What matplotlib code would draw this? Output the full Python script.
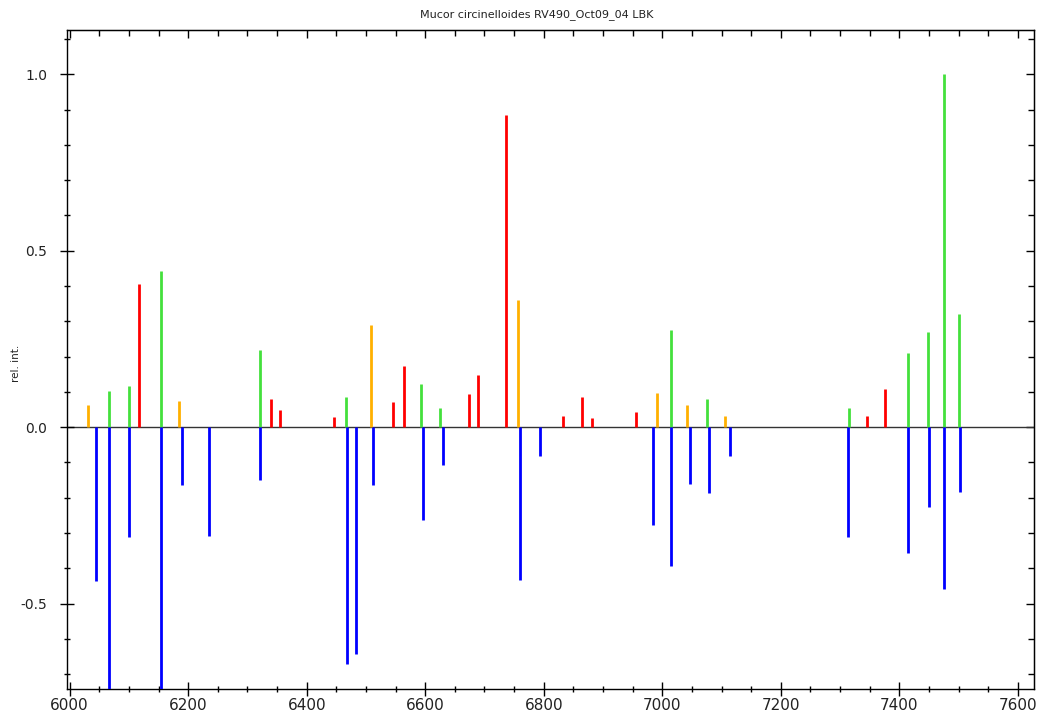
import matplotlib
matplotlib.use("Agg")
import matplotlib.pyplot as plt
from matplotlib.ticker import MultipleLocator, NullFormatter, FormatStrFormatter

title = "Mucor circinelloides RV490_Oct09_04 LBK"
ylabel = "rel. int."

orange_x = [6031, 6184, 6508.5, 6757, 6991, 7041, 7106]
orange_y = [0.062, 0.073, 0.291, 0.360, 0.096, 0.064, 0.031]

green_x = [6067, 6100.7, 6153.6, 6320.6, 6466.3, 6593.4, 6625.4, 7014, 7076,
           7315, 7415, 7448, 7475, 7499.8]
green_y = [0.102, 0.118, 0.443, 0.220, 0.085, 0.121, 0.055, 0.274, 0.079,
           0.054, 0.209, 0.269, 1.0, 0.322]

red_x = [6117, 6340.3, 6354.4, 6446.6, 6546, 6565, 6673.8, 6689.5, 6735.6,
         6832.9, 6865, 6881, 6955.5, 7345, 7375.4]
red_y = [0.405, 0.079, 0.049, 0.028, 0.070, 0.172, 0.094, 0.147, 0.886,
         0.031, 0.085, 0.026, 0.043, 0.033, 0.108]

blue_x = [6044, 6066, 6100.7, 6154.5, 6189.6, 6235, 6320.6, 6468, 6482.6,
          6512.4, 6595.6, 6629.3, 6760.4, 6794, 6984, 7014, 7046, 7078, 7115,
          7314, 7415, 7450.3, 7475, 7503]
blue_y = [-0.437, -0.80, -0.312, -0.80, -0.165, -0.309, -0.150, -0.670, -0.644,
          -0.163, -0.262, -0.106, -0.434, -0.081, -0.276, -0.393, -0.160, -0.186,
          -0.082, -0.312, -0.357, -0.225, -0.458, -0.184]

plt.rcParams['font.family'] = ['DejaVu Sans']

fig = plt.figure(figsize=(10.37, 7.2), dpi=100)
ax = fig.add_axes([0.0643, 0.0426, 0.9327, 0.9154])

ax.axhline(0, color='#333333', lw=1.0, zorder=1)
lw = 2.0
ax.vlines(orange_x, 0, orange_y, colors='#FFB000', lw=lw, zorder=2)
ax.vlines(green_x, 0, green_y, colors='#44E03C', lw=lw, zorder=2)
ax.vlines(red_x, 0, red_y, colors='#FF0000', lw=lw, zorder=2)
ax.vlines(blue_x, 0, blue_y, colors='#0000FF', lw=lw, zorder=3)

ax.set_xlim(5995, 7627)
ax.set_ylim(-0.743, 1.125)

ax.xaxis.set_major_locator(MultipleLocator(200))
ax.xaxis.set_minor_locator(MultipleLocator(50))
ax.yaxis.set_major_locator(MultipleLocator(0.5))
ax.yaxis.set_minor_locator(MultipleLocator(0.1))
ax.yaxis.set_major_formatter(FormatStrFormatter('%.1f'))

ax.tick_params(axis='both', which='major', direction='inout', length=10, width=1,
               top=False, right=False, pad=1, labelcolor='#222222')
ax.tick_params(axis='both', which='minor', direction='inout', length=5, width=1,
               top=False, right=False)
ax.tick_params(axis='x', which='major', labelsize=11)
ax.tick_params(axis='y', which='major', labelsize=10, pad=9)

# top and right ticks pointing inward, no labels
secx = ax.secondary_xaxis('top')
secx.xaxis.set_major_locator(MultipleLocator(200))
secx.xaxis.set_minor_locator(MultipleLocator(50))
secx.xaxis.set_major_formatter(NullFormatter())
secx.tick_params(which='major', direction='in', length=6, width=1)
secx.tick_params(which='minor', direction='in', length=4, width=1)

secy = ax.secondary_yaxis('right')
secy.yaxis.set_major_locator(MultipleLocator(0.5))
secy.yaxis.set_minor_locator(MultipleLocator(0.1))
secy.yaxis.set_major_formatter(NullFormatter())
secy.tick_params(which='major', direction='in', length=6, width=1)
secy.tick_params(which='minor', direction='in', length=4, width=1)

for s in ax.spines.values():
    s.set_linewidth(1.0)

fig.text(0.518, 0.980, title, ha='center', va='center', fontsize=8, color='#222222')
fig.text(0.015, 0.495, ylabel, rotation=90, ha='center', va='center', fontsize=7.5,
         color='#222222')

fig.savefig("out.png", dpi=100)
